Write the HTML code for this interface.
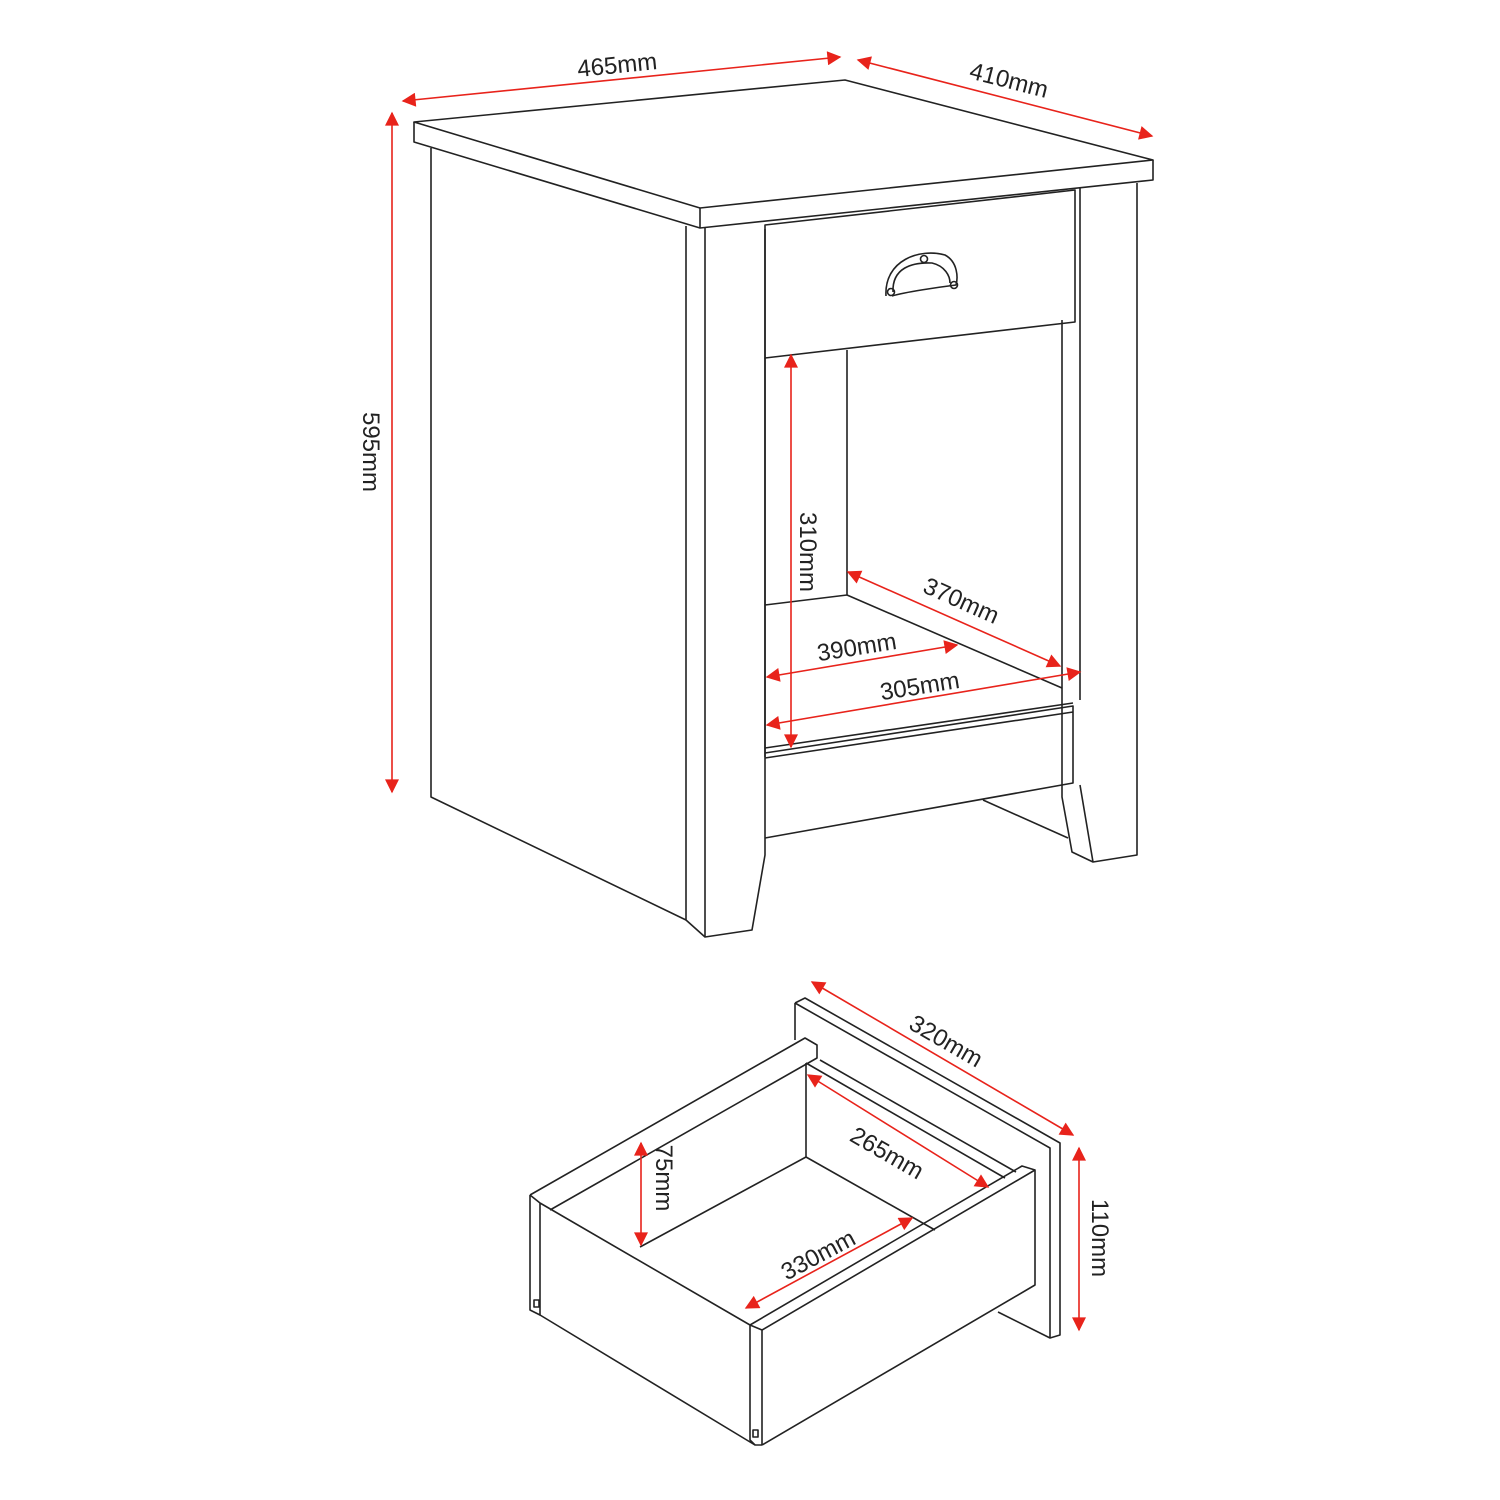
<!DOCTYPE html>
<html><head><meta charset="utf-8"><style>
html,body{margin:0;padding:0;background:#fff}
svg{display:block}
text{font-family:"Liberation Sans",Arial,sans-serif;font-size:24px;fill:#222}
</style></head><body>
<svg width="1500" height="1500" viewBox="0 0 1500 1500" xmlns="http://www.w3.org/2000/svg">
<defs>
<marker id="b" viewBox="0 0 10 10" refX="9" refY="5" markerWidth="16" markerHeight="14" orient="auto-start-reverse" markerUnits="userSpaceOnUse"><path d="M0,0L10,5L0,10z" fill="#e8231b"/></marker>
</defs>
<g fill="none" stroke="#222" stroke-width="1.6" stroke-linejoin="round">
<path d="M414,122 L845,80 L1153,160 L700,208 Z"/>
<path d="M414,122 V142 L700,228 L1153,180 V160 M700,208 V228"/>
<path d="M431,148 V797 L686,920"/>
<path d="M686,226 V920 L705,937 L752,930 L765,855 V229"/>
<path d="M705,228 V937"/>
<path d="M765,225 L1075,190 V322 L765,358 Z"/>
<path d="M1137,183 V855 L1093,862 L1072,852 L1062,797 V320"/>
<path d="M1080,188 V700 M1080,785 L1093,862"/>
<path d="M765,358 V757 M847,350 V595 M765,605 L847,595 L1062,688"/>
<path d="M765,753 L1073,706 V783 L765,838 M765,758 L1073,712 M765,748 L1073,703"/>
<path d="M983,800 L1068,838"/>
<path d="M886,296 C884,260 920,248 945,255 C958,262 958,278 956,285 C940,287 905,292 892,296" />
<path d="M893,292 C892,268 912,262 932,263 C945,266 950,276 950,283"/>
<circle cx="924" cy="259" r="3.5"/><circle cx="891" cy="292" r="3.5"/><circle cx="954" cy="285" r="3.5"/>
</g>
<g stroke="#e8231b" stroke-width="1.6" fill="none">
<line x1="403" y1="101" x2="840" y2="57" marker-start="url(#b)" marker-end="url(#b)"/>
<line x1="858" y1="60" x2="1152" y2="136" marker-start="url(#b)" marker-end="url(#b)"/>
<line x1="392" y1="113" x2="392" y2="792" marker-start="url(#b)" marker-end="url(#b)"/>
<line x1="791" y1="355" x2="791" y2="747" marker-start="url(#b)" marker-end="url(#b)"/>
<line x1="848" y1="572" x2="1060" y2="666" marker-start="url(#b)" marker-end="url(#b)"/>
<line x1="767" y1="677" x2="957" y2="645" marker-start="url(#b)" marker-end="url(#b)"/>
<line x1="767" y1="725" x2="1080" y2="672" marker-start="url(#b)" marker-end="url(#b)"/>
</g>
<text transform="translate(618,73) rotate(-5.7)" text-anchor="middle">465mm</text>
<text transform="translate(1007,88) rotate(14.5)" text-anchor="middle">410mm</text>
<text transform="translate(363,452) rotate(90)" text-anchor="middle">595mm</text>
<text transform="translate(800,552) rotate(90)" text-anchor="middle">310mm</text>
<text transform="translate(958,608) rotate(24)" text-anchor="middle">370mm</text>
<text transform="translate(858,655) rotate(-9)" text-anchor="middle">390mm</text>
<text transform="translate(921,694) rotate(-9)" text-anchor="middle">305mm</text>

<g fill="none" stroke="#222" stroke-width="1.6" stroke-linejoin="round">
<path d="M795,1003 V1040 M795,1003 L805,998 L1060,1143 V1335 L1050,1338 L998,1312 M795,1003 L1050,1148 V1338"/>
<path d="M530,1195 L805,1038 L817,1045 V1058 L550,1210"/>
<path d="M530,1195 V1310 L540,1315 V1203 M540,1203 L530,1195"/>
<path d="M534,1300 h5 v7 h-5z"/>
<path d="M540,1315 L755,1445 L762,1445"/>
<path d="M540,1203 L750,1325 L762,1330 V1445 M750,1325 V1440 L755,1445"/>
<path d="M753,1430 h5 v7 h-5z"/>
<path d="M762,1330 L1035,1170 V1285 L762,1445 M750,1325 L1022,1166 L1035,1170"/>
<path d="M806,1063 V1157 L640,1247 M806,1157 L935,1230 M806,1063 L1005,1178 M820,1060 L1016,1172"/>
</g>
<g stroke="#e8231b" stroke-width="1.6" fill="none">
<line x1="812" y1="982" x2="1073" y2="1135" marker-start="url(#b)" marker-end="url(#b)"/>
<line x1="808" y1="1075" x2="988" y2="1187" marker-start="url(#b)" marker-end="url(#b)"/>
<line x1="641" y1="1143" x2="641" y2="1245" marker-start="url(#b)" marker-end="url(#b)"/>
<line x1="746" y1="1308" x2="912" y2="1218" marker-start="url(#b)" marker-end="url(#b)"/>
<line x1="1079" y1="1148" x2="1079" y2="1330" marker-start="url(#b)" marker-end="url(#b)"/>
</g>
<text transform="translate(942,1048) rotate(30)" text-anchor="middle">320mm</text>
<text transform="translate(883,1160) rotate(30)" text-anchor="middle">265mm</text>
<text transform="translate(656,1178) rotate(90)" text-anchor="middle">75mm</text>
<text transform="translate(822,1262) rotate(-28)" text-anchor="middle">330mm</text>
<text transform="translate(1092,1238) rotate(90)" text-anchor="middle">110mm</text>
</svg>
</body></html>
